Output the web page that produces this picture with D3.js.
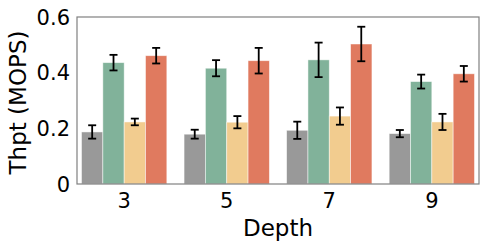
<!DOCTYPE html>
<html><head><meta charset="utf-8">
<script src="https://cdn.jsdelivr.net/npm/d3@7"></script>
<style>body{margin:0;background:#fff}svg{display:block}text{font-family:"DejaVu Sans",sans-serif;fill:#000}</style>
</head><body><svg id="c" width="488" height="250"></svg>
<script>
const categories = ["3", "5", "7", "9"];
const seriesNames = ["s1", "s2", "s3", "s4"];
const seriesColors = ["#999999", "#81b29a", "#f2cc8f", "#e07a5f"];
const values = [
  [0.187, 0.179, 0.193, 0.181],
  [0.436, 0.416, 0.446, 0.368],
  [0.223, 0.222, 0.244, 0.223],
  [0.461, 0.443, 0.503, 0.396]
];
const errors = [
  [0.024, 0.016, 0.031, 0.013],
  [0.028, 0.029, 0.062, 0.025],
  [0.012, 0.022, 0.031, 0.029],
  [0.028, 0.046, 0.062, 0.028]
];
const yTicks = [0, 0.2, 0.4, 0.6];

const svg = d3.select("#c");
const L = 77, R = 479, T = 17, B = 184;
const x = d3.scaleLinear().domain([-0.46, categories.length - 1 + 0.46]).range([L, R]);
const y = d3.scaleLinear().domain([0, 0.6]).range([B, T]);
const bw = 0.208;

seriesNames.forEach((s, si) => {
  categories.forEach((c, ci) => {
    const cx = ci + (si - 1.5) * bw;
    const x0 = x(cx - bw / 2), x1 = x(cx + bw / 2);
    svg.append("rect").attr("x", x0).attr("y", y(values[si][ci]))
      .attr("width", x1 - x0).attr("height", y(0) - y(values[si][ci]))
      .attr("fill", seriesColors[si]).attr("stroke", "#fff").attr("stroke-opacity", 0.6).attr("stroke-width", 0.8);
  });
});
seriesNames.forEach((s, si) => {
  categories.forEach((c, ci) => {
    const px = x(ci + (si - 1.5) * bw);
    const lo = y(values[si][ci] - errors[si][ci]), hi = y(values[si][ci] + errors[si][ci]);
    const g = svg.append("g").attr("stroke", "#000").attr("stroke-width", 1.8);
    g.append("line").attr("x1", px).attr("x2", px).attr("y1", lo).attr("y2", hi);
    g.append("line").attr("x1", px - 4).attr("x2", px + 4).attr("y1", lo).attr("y2", lo);
    g.append("line").attr("x1", px - 4).attr("x2", px + 4).attr("y1", hi).attr("y2", hi);
  });
});

svg.append("rect").attr("x", L).attr("y", T).attr("width", R - L).attr("height", B - T)
  .attr("fill", "none").attr("stroke", "#808080").attr("stroke-width", 1.2);

svg.append("g").selectAll("text").data(yTicks).join("text")
  .attr("x", 70).attr("y", d => y(d)).attr("dy", "0.36em").attr("text-anchor", "end")
  .attr("font-size", 21).text(d => d === 0 ? "0" : d3.format(".1f")(d));

svg.append("g").selectAll("text").data(categories).join("text")
  .attr("x", (d, i) => x(i)).attr("y", 208).attr("text-anchor", "middle")
  .attr("font-size", 21).text(d => d);

svg.append("text").attr("x", (L + R) / 2).attr("y", 236).attr("text-anchor", "middle")
  .attr("font-size", 23).text("Depth");
svg.append("text").attr("transform", `translate(26,${(T + B) / 2 + 2}) rotate(-90)`)
  .attr("text-anchor", "middle").attr("font-size", 23).text("Thpt (MOPS)");
</script></body></html>
